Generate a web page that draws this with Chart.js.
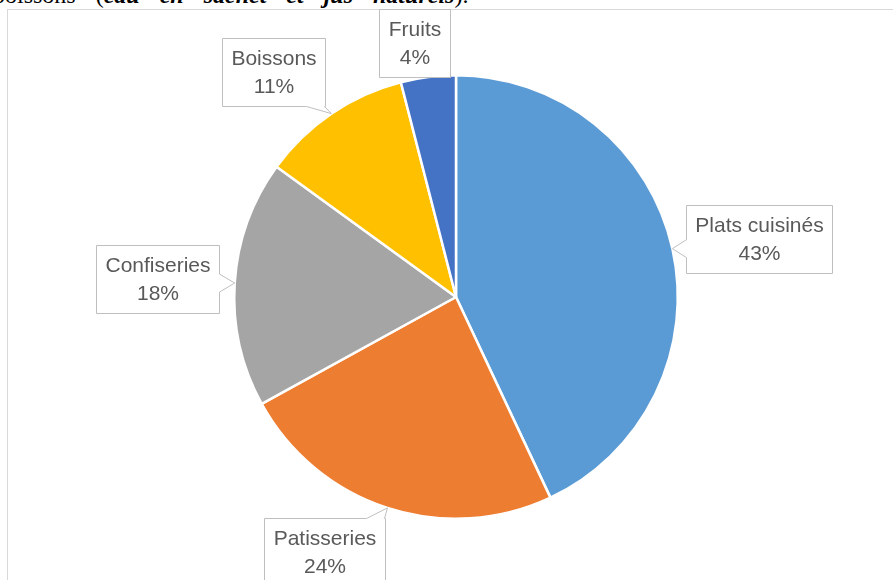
<!DOCTYPE html>
<html>
<head>
<meta charset="utf-8">
<script src="https://cdn.jsdelivr.net/npm/chart.js@4.4.1/dist/chart.umd.min.js"></script>
<style>
  html, body { margin: 0; padding: 0; background: #fff; overflow: hidden; }
  #wrap { position: relative; width: 893px; height: 580px; overflow: hidden; }
  #topline { position: absolute; left: -7px; top: -17px; font: 24px "Liberation Serif", serif; line-height: 24px; color: #000; white-space: nowrap; word-spacing: 14px; }
  #frame { position: absolute; left: 7px; top: 9px; width: 1000px; height: 1000px; border-left: 1px solid #d9d9d9; border-top: 1px solid #d9d9d9; }
  #grafica { position: absolute; left: 0; top: 0; }
</style>
</head>
<body>
<div id="wrap">
  <div id="topline">boissons (<b><i>eau en sachet et jus naturels</i></b>).</div>
  <div id="frame"></div>
  <canvas id="grafica" width="893" height="580"></canvas>
</div>
<script>
var categories = ["Plats cuisinés", "Patisseries", "Confiseries", "Boissons", "Fruits"];
var shares = [43, 24, 18, 11, 4];
var pctLabels = ["43%", "24%", "18%", "11%", "4%"];
var sliceColors = ["#5b9bd5", "#ed7d31", "#a5a5a5", "#ffc000", "#4472c4"];

// where each callout box sits, relative to the pie centre
var calloutOffsets = [[303, -58], [-132, 255], [-299, -18], [-183, -225], [-42, -254]];

var calloutPlugin = {
    id: 'callouts',
    afterDatasetsDraw: function(chart) {
        var ctx = chart.ctx;
        var meta = chart.getDatasetMeta(0);
        ctx.save();
        ctx.font = '21px "Liberation Sans", Arial, sans-serif';
        ctx.textAlign = 'center';
        ctx.textBaseline = 'middle';
        meta.data.forEach(function(arc, i) {
            var p = arc.getProps(['x', 'y', 'startAngle', 'endAngle', 'outerRadius'], true);
            var mid = (p.startAngle + p.endAngle) / 2;
            var tip = { x: p.x + p.outerRadius * Math.cos(mid), y: p.y + p.outerRadius * Math.sin(mid) };
            var l1 = categories[i], l2 = pctLabels[i];
            var w = Math.round(Math.max(ctx.measureText(l1).width, ctx.measureText(l2).width) + 18);
            var h = 68;
            var cx = p.x + calloutOffsets[i][0], cy = p.y + calloutOffsets[i][1];
            var L = Math.round(cx - w / 2) + 0.5, R = L + w, T = Math.round(cy - h / 2) + 0.5, B = T + h;

            var side = null;
            if (tip.y > B + 3) side = 'bottom';
            else if (tip.y < T - 3) side = 'top';
            else if (tip.x < L - 3) side = 'left';
            else if (tip.x > R + 3) side = 'right';

            var half = 9;
            var clamp = function(v, a, b) { return Math.max(a, Math.min(b, v)); };
            var pts = [[L, T]];
            if (side === 'top') { var bx = clamp(tip.x, L + half + 1, R - half - 1); pts.push([bx - half, T], [tip.x, tip.y], [bx + half, T]); }
            pts.push([R, T]);
            if (side === 'right') { var by = clamp(tip.y, T + half + 1, B - half - 1); pts.push([R, by - half], [tip.x, tip.y], [R, by + half]); }
            pts.push([R, B]);
            if (side === 'bottom') { var bx2 = clamp(tip.x, L + half + 1, R - half - 1); pts.push([bx2 + half, B], [tip.x, tip.y], [bx2 - half, B]); }
            pts.push([L, B]);
            if (side === 'left') { var by2 = clamp(tip.y, T + half + 1, B - half - 1); pts.push([L, by2 + half], [tip.x, tip.y], [L, by2 - half]); }

            ctx.beginPath();
            pts.forEach(function(pt, k) { if (k === 0) ctx.moveTo(pt[0], pt[1]); else ctx.lineTo(pt[0], pt[1]); });
            ctx.closePath();
            ctx.fillStyle = '#ffffff';
            ctx.fill();
            ctx.strokeStyle = '#bfbfbf';
            ctx.lineWidth = 1;
            ctx.stroke();

            ctx.fillStyle = '#595959';
            ctx.fillText(l1, (L + R) / 2, (T + B) / 2 - 13);
            ctx.fillText(l2, (L + R) / 2, (T + B) / 2 + 15);
        });
        ctx.restore();
    }
};

var ctx = document.getElementById("grafica").getContext('2d');
var myChart = new Chart(ctx, {
    type: 'pie',
    data: {
        labels: categories,
        datasets: [{
            data: shares,
            backgroundColor: sliceColors,
            borderColor: '#ffffff',
            borderWidth: 2.5
        }]
    },
    options: {
        responsive: false,
        animation: false,
        layout: { padding: { top: 74, bottom: 60, left: 200, right: 181 } },
        plugins: {
            legend: { display: false },
            tooltip: { enabled: false }
        }
    },
    plugins: [calloutPlugin]
});
</script>
</body>
</html>
